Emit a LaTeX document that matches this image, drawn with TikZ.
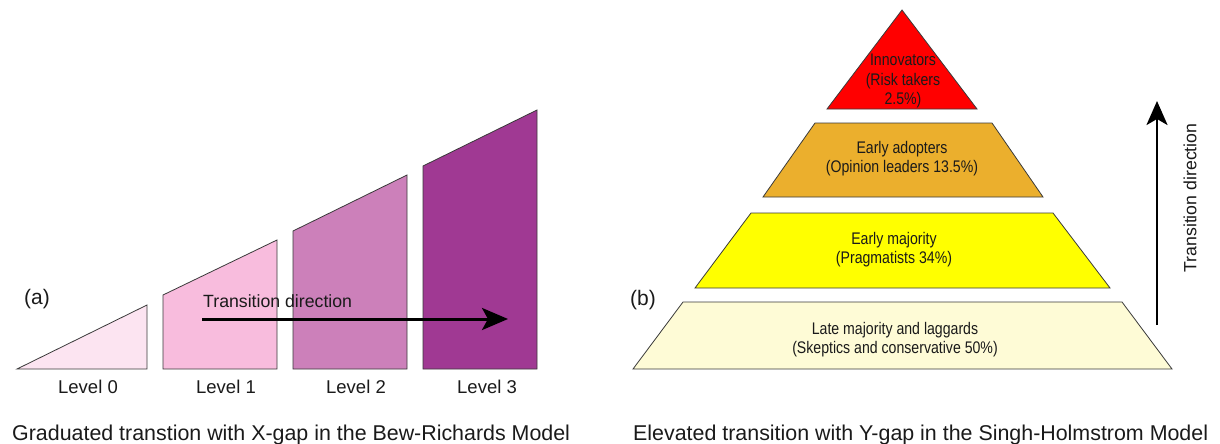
\documentclass[tikz,border=0pt]{standalone}
\usepackage{fontspec}
\setmainfont{Liberation Sans}
\newfontfamily\narrowfont{Liberation Sans}[FakeStretch=0.84]
\usetikzlibrary{arrows.meta}
\definecolor{levA}{HTML}{FCE4F1}
\definecolor{levB}{HTML}{F8BCDD}
\definecolor{levC}{HTML}{CC80BA}
\definecolor{levD}{HTML}{A03993}
\definecolor{pyrRed}{HTML}{FF0000}
\definecolor{pyrOrange}{HTML}{EBAF2D}
\definecolor{pyrYellow}{HTML}{FFFF00}
\definecolor{pyrPale}{HTML}{FEFBD6}
\definecolor{edgegray}{HTML}{3A3A3A}
\definecolor{txt}{HTML}{1A1A1A}
\begin{document}
\begin{tikzpicture}[x=1pt,y=-1pt,
  shapeline/.style={draw=edgegray, line width=0.8pt, line join=miter},
  levtext/.style={font=\fontsize{18.5}{22}\selectfont, text=txt, inner sep=0pt, anchor=base},
  panel/.style={font=\fontsize{21}{25}\selectfont, text=txt, inner sep=0pt},
  caption/.style={font=\fontsize{21.4}{25}\selectfont, text=txt, inner sep=0pt, anchor=base west},
  dirtext/.style={font=\fontsize{17.7}{21}\selectfont, text=txt, inner sep=0pt},
  pyrtext/.style={font=\narrowfont\fontsize{16.8}{19.3}\selectfont, text=txt, inner sep=0pt, align=center},
  bigarrow/.style={-{Stealth[length=26pt,width=22pt,inset=6pt]}, line width=3pt, black}
]
\useasboundingbox (0,0) rectangle (1220,444);

% ---------- panel (a) ----------
\path[shapeline, fill=levA] (17,369) -- (147,369) -- (147,305) -- cycle;
\path[shapeline, fill=levB] (163,369) -- (277,369) -- (277,240) -- (163,295) -- cycle;
\path[shapeline, fill=levC] (293,369) -- (407,369) -- (407,175) -- (293,231) -- cycle;
\path[shapeline, fill=levD] (423,369) -- (537,369) -- (537,110) -- (423,166) -- cycle;

\node[levtext] (l0) at (88,393) {Level 0};
\node[levtext] (l1) at (226,393) {Level 1};
\node[levtext] (l2) at (356,393) {Level 2};
\node[levtext] (l3) at (487,393) {Level 3};

\node[panel] (pa) at (37,299) {(a)};
\node[dirtext, anchor=base west] (tda) at (203,307) {Transition direction};
\coordinate (arA) at (202,319);
\coordinate (arB) at (508,319);
\draw[bigarrow] (arA) -- (arB);

\node[caption] (capa) at (12,440) {Graduated transtion with X-gap in the Bew-Richards Model};

% ---------- panel (b) ----------
\path[shapeline, fill=pyrPale] (633,369) -- (1172,369) -- (1122,302) -- (683,302) -- cycle;
\path[shapeline, fill=pyrYellow] (695,288) -- (1110,288) -- (1053,213) -- (751,213) -- cycle;
\path[shapeline, fill=pyrOrange] (763,197) -- (1043,197) -- (992,123) -- (815,123) -- cycle;
\path[shapeline, fill=pyrRed] (827,109) -- (977,109) -- (902,10) -- cycle;

\node[pyrtext] (tred) at (903,81) {Innovators\\(Risk takers\\2.5\%)};
\node[pyrtext] (tora) at (902,159) {Early adopters\\(Opinion leaders 13.5\%)};
\node[pyrtext] (tyel) at (894,250) {Early majority\\(Pragmatists 34\%)};
\node[pyrtext] (tpal) at (895,340) {Late majority and laggards\\(Skeptics and conservative 50\%)};

\node[panel] (pb) at (643,300) {(b)};
\coordinate (arC) at (1157,325);
\coordinate (arD) at (1157,101);
\draw[bigarrow, line width=2.7pt, -{Stealth[length=24pt,width=21pt,inset=6pt]}] (arC) -- (arD);
\node[dirtext, rotate=90] (tdb) at (1190,198) {Transition direction};

\node[caption] (capb) at (633,440) {Elevated transition with Y-gap in the Singh-Holmstrom Model};
\end{tikzpicture}
\end{document}
